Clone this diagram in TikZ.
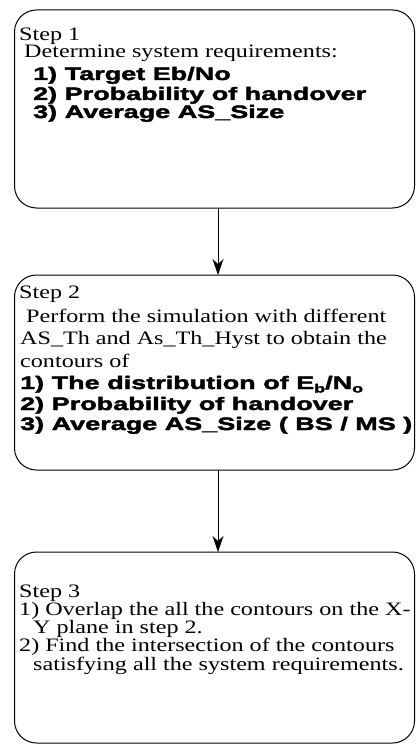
\documentclass[tikz,border=0pt]{standalone}
\usepackage{fontspec}
\usetikzlibrary{arrows.meta}
\newfontfamily\stepserif[FakeStretch=1.27]{Liberation Serif}
\newfontfamily\stepheavy[FakeStretch=1.5,BoldFeatures={FakeBold=2.4}]{Liberation Sans}
\tikzset{
  stepbox/.style={draw=black, line width=1pt, rounded corners=22pt,
    minimum width=400pt, inner sep=0pt, outer sep=0pt},
  plain/.style={anchor=base west, inner sep=0pt,
    font=\stepserif\fontsize{19}{20}\selectfont},
  heavy/.style={anchor=base west, inner sep=0pt,
    font=\stepheavy\bfseries\fontsize{18}{19}\selectfont},
  flow/.style={draw=black, line width=1pt,
    -{Stealth[length=16pt,width=11pt,inset=5pt]}}
}
\newcommand\lowered[1]{\raisebox{-3.5pt}{\fontsize{12}{12}\selectfont #1}}
\begin{document}
\begin{tikzpicture}[x=1pt,y=-1pt]
\useasboundingbox (0,0) rectangle (416,746);

% the three step boxes
\node[stepbox, minimum height=198pt] (s1) at (214.5,109) {};
\node[stepbox, minimum height=195pt] (s2) at (214.5,372.5) {};
\node[stepbox, minimum height=191pt] (s3) at (214.5,647.5) {};

% Step 1
\node[plain] (t11) at (19,41) {Step 1};
\node[plain] (t12) at (24,58) {Determine system requirements:};
\node[heavy] (t13) at (33,80) {1) Target Eb/No};
\node[heavy] (t14) at (33,100) {2) Probability of handover};
\node[heavy] (t15) at (33,118) {3) Average AS\_Size};

% Step 2
\node[plain] (t21) at (19,298) {Step 2};
\node[plain] (t22) at (26,322) {Perform the simulation with different};
\node[plain] (t23) at (20,344) {AS\_Th and As\_Th\_Hyst to obtain the};
\node[plain] (t24) at (20,367) {contours of};
\node[heavy] (t25) at (20,389) {1) The distribution of E\lowered{b}/N\lowered{o}};
\node[heavy] (t26) at (20,410) {2) Probability of handover};
\node[heavy] (t27) at (20,430) {3) Average AS\_Size ( BS / MS )};

% Step 3
\node[plain] (t31) at (19,597) {Step 3};
\node[plain] (t32) at (19,615) {1) Overlap the all the contours on the X-};
\node[plain] (t33) at (33,633) {Y plane in step 2.};
\node[plain] (t34) at (19,651) {2) Find the intersection of the contours};
\node[plain] (t35) at (33,670) {satisfying all the system requirements.};

% connectors between the steps
\draw[flow] ([xshift=3.5pt]s1.south) -- ([xshift=3.5pt]s2.north);
\draw[flow] ([xshift=3.5pt]s2.south) -- ([xshift=3.5pt]s3.north);
\end{tikzpicture}
\end{document}
